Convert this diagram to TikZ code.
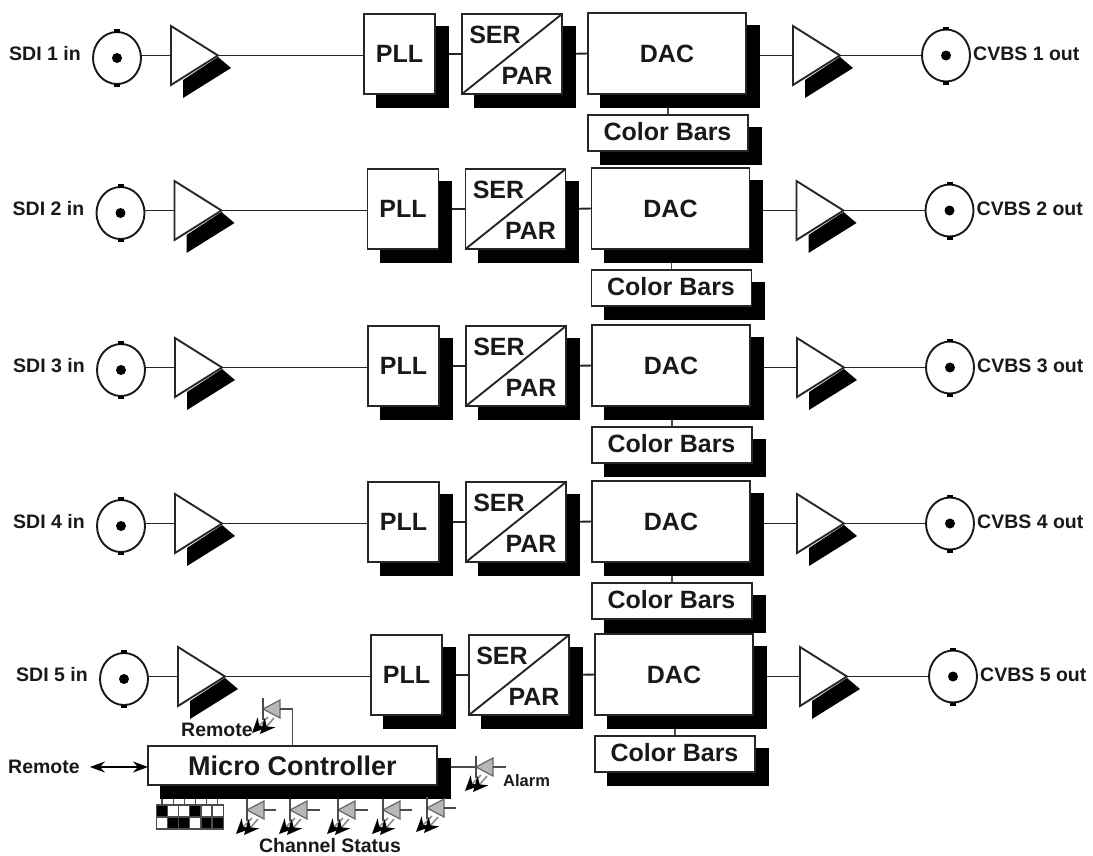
\documentclass[tikz,border=0pt]{standalone}
\usepackage{fontspec}
\setmainfont{Liberation Sans}
\usetikzlibrary{arrows.meta,backgrounds,shadows,shapes.geometric}
\tikzset{
  sigline/.style={line width=1.9pt, draw=black!85},
  thinline/.style={line width=1.3pt, draw=black!70},
  blockbox/.style={rectangle, draw=black!85, fill=white, line width=1.9pt, inner sep=0pt, outer sep=0pt,
    copy shadow={shadow xshift=13pt, shadow yshift=-13pt, fill=black, draw=black, opacity=1}},
  pllbox/.style={blockbox, minimum width=71pt, minimum height=80pt},
  serbox/.style={blockbox, minimum width=100pt, minimum height=80pt},
  dacbox/.style={blockbox, minimum width=158pt, minimum height=81pt},
  barsbox/.style={blockbox, minimum width=160pt, minimum height=36pt},
  microbox/.style={blockbox, minimum width=289pt, minimum height=39pt},
  bigtext/.style={font=\bfseries\fontsize{25}{28}\selectfont, text=black!90, inner sep=0pt},
  midtext/.style={font=\bfseries\fontsize{19.5}{23}\selectfont, text=black!90, inner sep=0pt},
  smalltext/.style={font=\bfseries\fontsize{16.5}{20}\selectfont, text=black!90, inner sep=0pt},
  bncring/.style={ellipse, draw=black!90, fill=white, line width=1.9pt, minimum width=48pt, minimum height=52pt, inner sep=0pt, outer sep=0pt},
  ampbody/.style={isosceles triangle, isosceles triangle stretches, shape border rotate=0, draw=black!85, fill=white,
    line width=1.9pt, minimum width=59pt, minimum height=47pt, inner sep=0pt, outer sep=0pt, anchor=west},
  keycap/.style={rectangle, draw=black!70, line width=1.1pt, minimum width=11pt, minimum height=12pt, inner sep=0pt, outer sep=0pt},
  keyoff/.style={keycap, fill=white},
  keyon/.style={keycap, fill=black},
  ledbody/.style={fill=black!28, draw=black!60, line width=1.2pt},
  ledray/.style={line width=1.6pt, draw=black!45, -{Stealth[black, length=15pt, width=14pt]}},
  remotearrow/.style={line width=1.6pt, draw=black, {Stealth[length=15pt, width=11pt]}-{Stealth[length=15pt, width=11pt]}},
  bnc/.pic={
    \node[bncring] (-ring) at (0,0) {};
    \fill[black] (-3,-29) rectangle (3,-25.5);
    \fill[black] (-3,25.5) rectangle (3,29);
    \fill[black] (0,0) circle (5);
  },
  amp/.pic={
    \fill[black] (12,24.5) -- (47,1.5) -- (60,12.5) -- (12,42.5) -- cycle;
    \node[ampbody] (-body) at (0,0) {};
  },
  led/.pic={
    \coordinate (-tip) at (0,0);
    \coordinate (-in) at (17,0);
    \draw[ledray] (5,8) -- (-11,24);
    \draw[ledray] (11,9) -- (-3,25);
    \draw[ledbody] (0,0) -- (17,-9) -- (17,9) -- cycle;
    \draw[thinline] (0,-11) -- (0,11);
  },
}
\begin{document}
\begin{tikzpicture}[x=1pt, y=-1pt]
\useasboundingbox (0,0) rectangle (1093,855);
% the five channels
\foreach \row/\dx/\dy in {1/0/0, 2/3.5/155, 3/4/312, 4/4/468, 5/7/621} {
  \begin{scope}[shift={(\dx,\dy)}]
    \node[midtext, anchor=west] (sdi\row) at (9,53.5) {SDI \row{} in};
    \pic (bncin\row) at (117,58) {bnc};
    \pic (ampin\row) at (171,55.5) {amp};
    \node[pllbox] (pll\row) at (399.5,54) {};
    \node[bigtext] (plltext\row) at (pll\row) {PLL};
    \node[serbox] (ser\row) at (512,54) {};
    \draw[sigline] (ser\row.south west) -- (ser\row.north east);
    \node[bigtext] (sertext\row) at (495,35) {SER};
    \node[bigtext] (partext\row) at (527,76) {PAR};
    \node[dacbox] (dac\row) at (667,53.5) {};
    \node[bigtext] (dactext\row) at (dac\row) {DAC};
    \node[barsbox] (bars\row) at (668,133) {};
    \node[bigtext] (barstext\row) at (667.5,131.5) {Color Bars};
    \pic (ampout\row) at (793,55.5) {amp};
    \pic (bncout\row) at (946,55.5) {bnc};
    \node[midtext, anchor=west] (cvbs\row) at (973,53.5) {CVBS \row{} out};
    \begin{scope}[on background layer]
      \draw[sigline] (bncin\row-ring.east |- ampin\row-body.west) -- (ampin\row-body.west);
      \draw[sigline] (ampin\row-body.apex) -- (pll\row.west |- ampin\row-body.apex);
      \draw[sigline] (pll\row.east) -- (ser\row.west);
      \draw[sigline] (ser\row.east) -- (dac\row.west);
      \draw[sigline] (dac\row.east |- ampout\row-body.west) -- (ampout\row-body.west);
      \draw[sigline] (ampout\row-body.apex) -- (bncout\row-ring.west);
      \draw[thinline] (dac\row.south -| bars\row.north) -- (bars\row.north);
    \end{scope}
  \end{scope}
}
% controller and remote
\node[microbox] (micro) at (292.5,765.5) {};
\node[font=\bfseries\fontsize{27}{30}\selectfont, text=black!90, inner sep=0pt] (microtext) at (micro) {Micro Controller};
\node[midtext, anchor=west] (remote) at (8,767) {Remote};
\draw[remotearrow, shorten <=10pt] (remote.east) -- (micro.west |- remote.east);
\node[midtext, anchor=west] (remoteled) at (181,730) {Remote};
\pic (ledremote) at (263,709) {led};
\coordinate (microtap) at (292.5,745);
\draw[thinline] (ledremote-in) -| (microtap);
% alarm
\pic (ledalarm) at (476,767) {led};
\coordinate (alarmend) at (506,767);
\node[smalltext, anchor=west] (alarm) at (503,781) {Alarm};
\begin{scope}[on background layer]
  \draw[thinline] (micro.east |- ledalarm-tip) -- (ledalarm-tip);
\end{scope}
\draw[thinline] (ledalarm-in) -- (alarmend);
% channel status
\foreach \ledno/\ledx/\ledy/\wirex in {1/247/810/276, 2/290/810/320, 3/338/810/368, 4/383/810/412, 5/427/808/456} {
  \pic (ledchan\ledno) at (\ledx,\ledy) {led};
  \coordinate (chanend\ledno) at (\wirex,\ledy);
  \draw[thinline] (ledchan\ledno-in) -- (chanend\ledno);
}
\node[midtext] (chanstatus) at (330,845.5) {Channel Status};
% keypad
\foreach \col/\keytop/\keybot in {1/keyon/keyoff, 2/keyoff/keyon, 3/keyoff/keyon, 4/keyon/keyoff, 5/keyoff/keyon, 6/keyoff/keyon} {
  \node[\keytop] (keya\col) at ({151+11.1*\col},811) {};
  \node[\keybot] (keyb\col) at ({151+11.1*\col},823) {};
  \begin{scope}[on background layer]
    \draw[thinline] (keya\col.north) -- (keya\col.north |- micro.south);
  \end{scope}
}
\end{tikzpicture}
\end{document}
